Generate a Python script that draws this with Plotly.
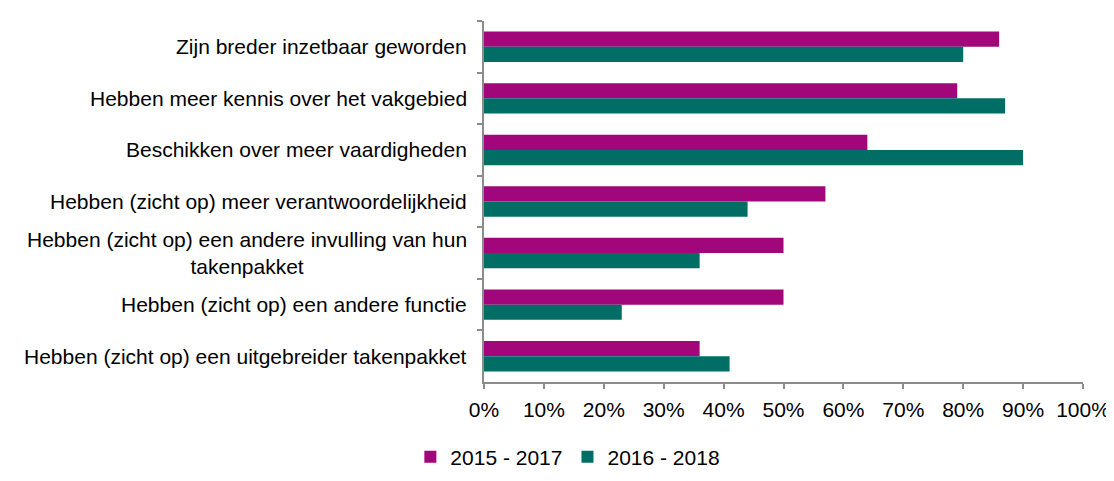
import plotly.graph_objects as go

# data
categories = [
    "Zijn breder inzetbaar geworden",
    "Hebben meer kennis over het vakgebied",
    "Beschikken over meer vaardigheden",
    "Hebben (zicht op) meer verantwoordelijkheid",
    "Hebben (zicht op) een andere invulling van hun takenpakket",
    "Hebben (zicht op) een andere functie",
    "Hebben (zicht op) een uitgebreider takenpakket",
]
labels = [
    "Zijn breder inzetbaar geworden",
    "Hebben meer kennis over het vakgebied",
    "Beschikken over meer vaardigheden",
    "Hebben (zicht op) meer verantwoordelijkheid",
    "Hebben (zicht op) een andere invulling van hun<br>takenpakket",
    "Hebben (zicht op) een andere functie",
    "Hebben (zicht op) een uitgebreider takenpakket",
]
series_2015_2017 = [86, 79, 64, 57, 50, 50, 36]
series_2016_2018 = [80, 87, 90, 44, 36, 23, 41]
x_ticks = [0, 10, 20, 30, 40, 50, 60, 70, 80, 90, 100]
x_ticktext = ["0%", "10%", "20%", "30%", "40%", "50%", "60%", "70%", "80%", "90%", "100%"]

MAGENTA = "#A1067A"
TEAL = "#006E65"
AXIS = "#8C8C8C"
FONT = "Liberation Sans, Arial, sans-serif"
FS = 21

fig = go.Figure()
fig.add_trace(go.Bar(y=categories, x=series_2015_2017, name="2015 - 2017",
                     orientation="h", marker_color=MAGENTA, marker_line_width=0))
fig.add_trace(go.Bar(y=categories, x=series_2016_2018, name="2016 - 2018",
                     orientation="h", marker_color=TEAL, marker_line_width=0))

# category labels (centred for the two-line one)
for cat, lab in zip(categories, labels):
    fig.add_annotation(x=0, xref="paper", xanchor="right", xshift=-15,
                       y=cat, yref="y", text=lab, showarrow=False, align="center",
                       font=dict(family=FONT, size=FS, color="#000000"))

fig.update_layout(
    width=1114, height=481,
    margin=dict(l=476, r=33, t=13, b=88),
    barmode="group", bargap=0.41, bargroupgap=0,
    plot_bgcolor="white", paper_bgcolor="white",
    font=dict(family=FONT, size=FS, color="#000000"),
    legend=dict(orientation="h", x=0.14, xanchor="center", y=-0.208, yanchor="middle",
                font=dict(family=FONT, size=FS), itemwidth=30),
)
fig.update_xaxes(range=[0, 100], tickmode="array", tickvals=x_ticks, ticktext=x_ticktext,
                 showgrid=False, zeroline=False, showline=True, linecolor=AXIS, linewidth=1.5,
                 ticks="outside", ticklen=5, tickcolor=AXIS, tickwidth=1.5,
                 ticklabelstandoff=3)
fig.update_yaxes(type="category", autorange="reversed", showticklabels=False,
                 showgrid=False, showline=True, linecolor=AXIS, linewidth=1.5,
                 ticks="outside", tickson="boundaries", ticklen=5, tickcolor=AXIS,
                 tickwidth=1.5)

fig.write_html("out.html")
